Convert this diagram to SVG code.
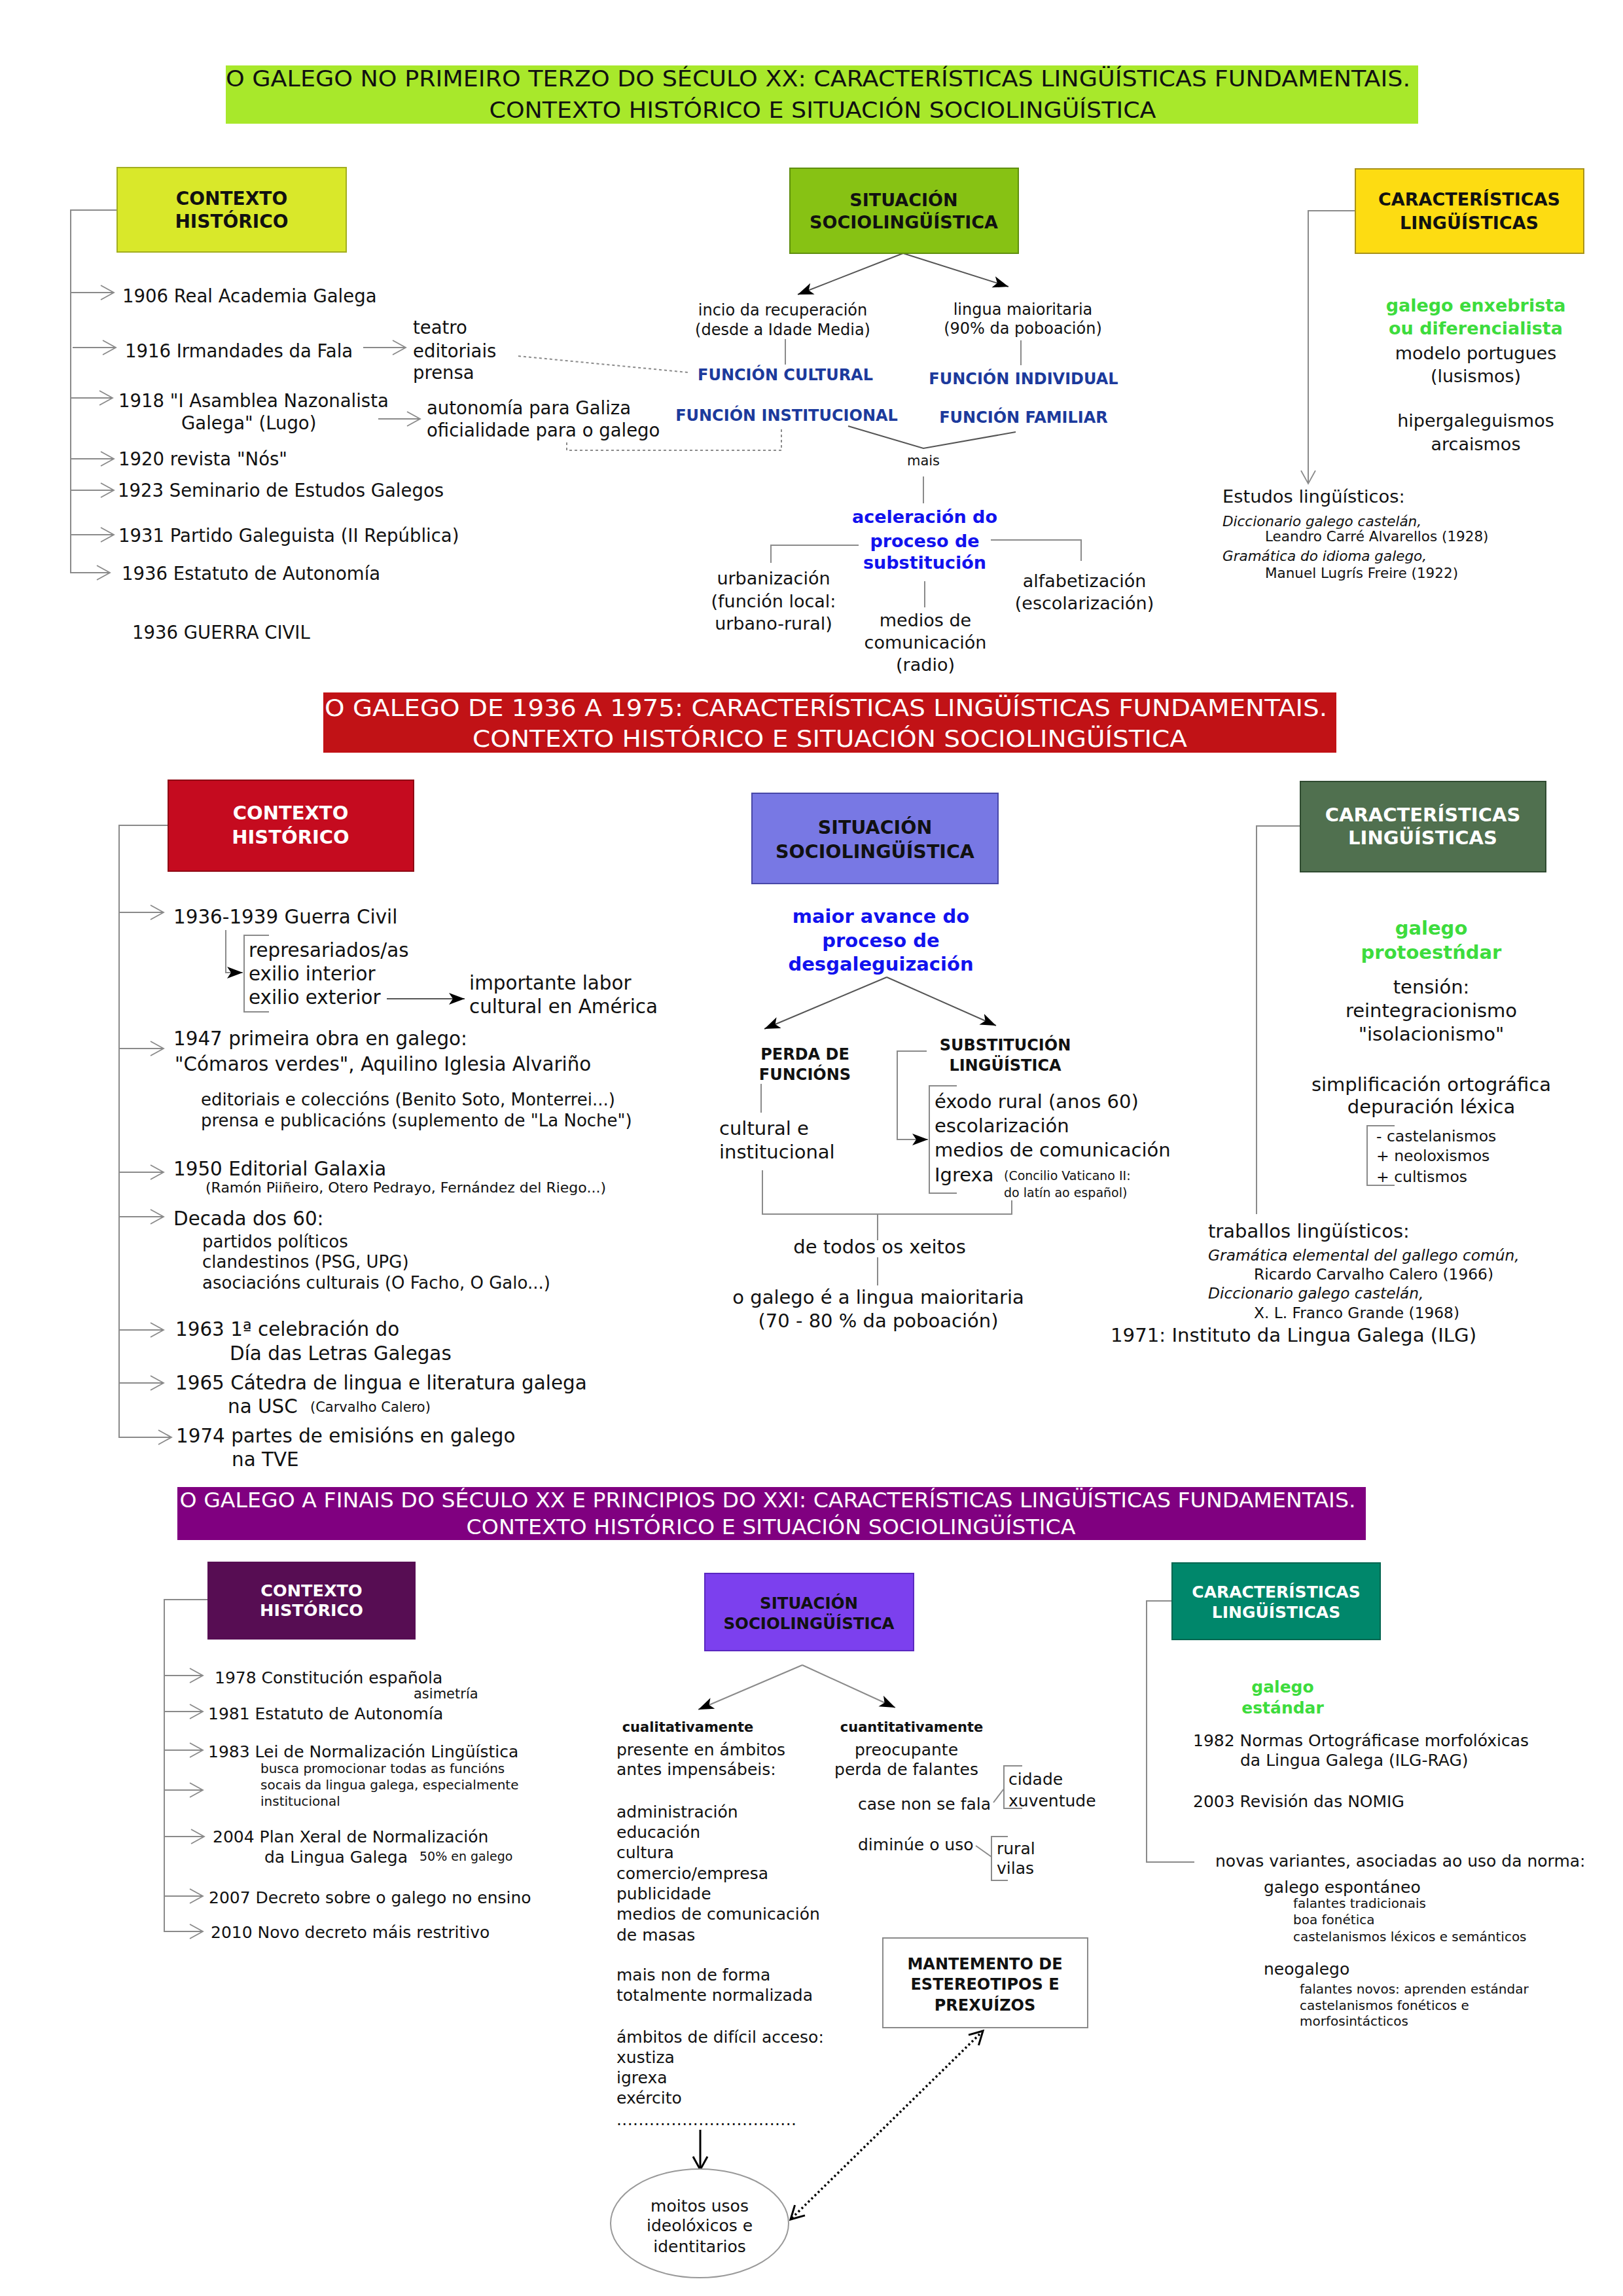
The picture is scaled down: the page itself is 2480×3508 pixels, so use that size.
<svg xmlns="http://www.w3.org/2000/svg" width="2480" height="3508" viewBox="0 0 2480 3508">
<defs>
<style>
text{font-family:"DejaVu Sans","Liberation Sans",sans-serif;fill:#111}
.b{font-weight:bold}
.i{font-style:italic}
.m{text-anchor:middle}
.w{fill:#fff}
.fb{fill:#1c3a9c}
.bl{fill:#1212ee}
.gr{fill:#3ddc3d}
.ln{stroke:#8a8a8a;stroke-width:2;fill:none}
.dk{stroke:#555;stroke-width:2;fill:none}
.dot{stroke:#8a8a8a;stroke-width:2;stroke-dasharray:4 4;fill:none}
.s19{font-size:19px}.s20{font-size:20px}.s21{font-size:21px}.s22{font-size:22px}.s23{font-size:23px}
.s24{font-size:24px}.s25{font-size:25px}.s26{font-size:26px}.s27{font-size:27px}.s28{font-size:28px}.s29{font-size:29px}
</style>
<marker id="chev" markerUnits="userSpaceOnUse" markerWidth="26" markerHeight="26" refX="21" refY="12" orient="auto"><path d="M1,1 L21,12 L1,23" fill="none" stroke="#8a8a8a" stroke-width="1.8"/></marker>
<marker id="tri" markerUnits="userSpaceOnUse" markerWidth="26" markerHeight="20" refX="24" refY="9" orient="auto"><path d="M0,0 L24,9 L0,18 L6,9 z" fill="#000"/></marker>
<marker id="vblk" markerUnits="userSpaceOnUse" markerWidth="30" markerHeight="30" refX="22" refY="13" orient="auto-start-reverse"><path d="M2,2 L22,13 L2,24" fill="none" stroke="#000" stroke-width="3"/></marker>
</defs>
<rect width="2480" height="3508" fill="#fff"/>

<!-- TITLES -->
<g id="title1">
<rect x="345" y="100" width="1822" height="89" fill="#a8e82b"/>
<text class="m" x="1250" y="132" font-size="34" textLength="1810" lengthAdjust="spacingAndGlyphs">O GALEGO NO PRIMEIRO TERZO DO SÉCULO XX: CARACTERÍSTICAS LINGÜÍSTICAS FUNDAMENTAIS.</text>
<text class="m" x="1257" y="180" font-size="34" textLength="1019" lengthAdjust="spacingAndGlyphs">CONTEXTO HISTÓRICO E SITUACIÓN SOCIOLINGÜÍSTICA</text>
</g>
<g id="title2">
<rect x="494" y="1058" width="1548" height="92" fill="#c11216"/>
<text class="m w" x="1262" y="1094" font-size="36" textLength="1532" lengthAdjust="spacingAndGlyphs">O GALEGO DE 1936 A 1975: CARACTERÍSTICAS LINGÜÍSTICAS FUNDAMENTAIS.</text>
<text class="m w" x="1268" y="1141" font-size="36" textLength="1092" lengthAdjust="spacingAndGlyphs">CONTEXTO HISTÓRICO E SITUACIÓN SOCIOLINGÜÍSTICA</text>
</g>
<g id="title3">
<rect x="271" y="2272" width="1816" height="81" fill="#800080"/>
<text class="m w" x="1173" y="2303" font-size="32" textLength="1797" lengthAdjust="spacingAndGlyphs">O GALEGO A FINAIS DO SÉCULO XX E PRINCIPIOS DO XXI: CARACTERÍSTICAS LINGÜÍSTICAS FUNDAMENTAIS.</text>
<text class="m w" x="1178" y="2344" font-size="32" textLength="931" lengthAdjust="spacingAndGlyphs">CONTEXTO HISTÓRICO E SITUACIÓN SOCIOLINGÜÍSTICA</text>
</g>

<!-- CONNECTORS -->
<g id="connectors">
<!-- section 1 left -->
<path class="ln" d="M179,321 H108 V875 H168" marker-end="url(#chev)"/>
<path class="ln" d="M108,447 H174" marker-end="url(#chev)"/>
<path class="ln" d="M111,531 H177" marker-end="url(#chev)"/>
<path class="ln" d="M108,608 H172" marker-end="url(#chev)"/>
<path class="ln" d="M108,701 H174" marker-end="url(#chev)"/>
<path class="ln" d="M108,749 H174" marker-end="url(#chev)"/>
<path class="ln" d="M108,817 H174" marker-end="url(#chev)"/>
<path class="ln" d="M555,531 H620" marker-end="url(#chev)"/>
<path class="ln" d="M578,640 H642" marker-end="url(#chev)"/>
<path class="dot" d="M792,544 L1051,569"/>
<path class="dot" d="M866,676 V688 H1194 V655"/>
<!-- section 1 middle -->
<path class="dk" d="M1380,387 L1219,450" marker-end="url(#tri)"/>
<path class="dk" d="M1380,387 L1541,438" marker-end="url(#tri)"/>
<path class="ln" d="M1200,518 V557"/>
<path class="ln" d="M1560,520 V558"/>
<path class="dk" d="M1296,651 L1411,685 L1552,660"/>
<path class="ln" d="M1411,728 V769"/>
<path class="ln" d="M1312,833 H1178 V860"/>
<path class="ln" d="M1514,825 H1652 V857"/>
<path class="ln" d="M1413,888 V928"/>
<!-- section 1 right -->
<path class="ln" d="M2071,322 H1999 V739" marker-end="url(#chev)"/>
<!-- section 2 left -->
<path class="ln" d="M257,1261 H182 V2196 H262" marker-end="url(#chev)"/>
<path class="ln" d="M182,1394 H250" marker-end="url(#chev)"/>
<path class="ln" d="M182,1602 H250" marker-end="url(#chev)"/>
<path class="ln" d="M182,1791 H250" marker-end="url(#chev)"/>
<path class="ln" d="M182,1859 H250" marker-end="url(#chev)"/>
<path class="ln" d="M182,2032 H250" marker-end="url(#chev)"/>
<path class="ln" d="M182,2113 H250" marker-end="url(#chev)"/>
<path class="ln" d="M345,1421 V1486 H371" marker-end="url(#tri)"/>
<path class="ln" d="M411,1429 H373 V1546 H411"/>
<path class="dk" d="M591,1526 H710" marker-end="url(#tri)"/>
<!-- section 2 middle -->
<path class="dk" d="M1355,1493 L1168,1572" marker-end="url(#tri)"/>
<path class="dk" d="M1355,1493 L1522,1567" marker-end="url(#tri)"/>
<path class="ln" d="M1163,1656 V1700"/>
<path class="ln" d="M1416,1606 H1371 V1741 H1418" marker-end="url(#tri)"/>
<path class="ln" d="M1462,1659 H1420 V1823 H1462"/>
<path class="ln" d="M1165,1788 V1855 H1546 V1834"/>
<path class="ln" d="M1341,1855 V1895"/>
<path class="ln" d="M1341,1921 V1964"/>
<!-- section 2 right -->
<path class="ln" d="M1987,1262 H1920 V1855"/>
<path class="ln" d="M2131,1720 H2089 V1811 H2131"/>
<!-- section 3 left -->
<path class="ln" d="M317,2444 H251 V2951 H310" marker-end="url(#chev)"/>
<path class="ln" d="M251,2560 H310" marker-end="url(#chev)"/>
<path class="ln" d="M251,2615 H310" marker-end="url(#chev)"/>
<path class="ln" d="M251,2674 H310" marker-end="url(#chev)"/>
<path class="ln" d="M251,2735 H310" marker-end="url(#chev)"/>
<path class="ln" d="M251,2806 H312" marker-end="url(#chev)"/>
<path class="ln" d="M251,2897 H310" marker-end="url(#chev)"/>
<!-- section 3 middle -->
<path class="ln" d="M1226,2544 L1067,2612" marker-end="url(#tri)"/>
<path class="ln" d="M1226,2544 L1368,2609" marker-end="url(#tri)"/>
<path d="M1070,3254 V3315" stroke="#000" stroke-width="3" fill="none" marker-end="url(#vblk)"/>
<path d="M1502,3103 L1208,3391" stroke="#000" stroke-width="3.5" stroke-dasharray="3 4" fill="none" marker-start="url(#vblk)" marker-end="url(#vblk)"/>
<path class="ln" d="M1518,2754 L1534,2733"/>
<path class="ln" d="M1562,2698 H1534 V2763 H1562"/>
<path class="ln" d="M1491,2820 L1515,2837"/>
<path class="ln" d="M1540,2806 H1515 V2873 H1540"/>
<!-- section 3 right -->
<path class="ln" d="M1791,2446 H1752 V2845 H1825"/>
</g>

<!-- SECTION 1 -->
<g id="ctx1">
<rect x="179" y="256" width="350" height="129" fill="#d9e82a" stroke="#a2ae1e" stroke-width="2"/>
<text class="m b s28" x="354" y="313">CONTEXTO</text>
<text class="m b s28" x="354" y="348">HISTÓRICO</text>
</g>
<g id="ctx1-items" font-size="27.5">
<text x="187" y="462">1906 Real Academia Galega</text>
<text x="191" y="546">1916 Irmandades da Fala</text>
<text x="181" y="622">1918 &quot;I Asamblea Nazonalista</text>
<text x="277" y="656">Galega&quot; (Lugo)</text>
<text x="181" y="711">1920 revista &quot;Nós&quot;</text>
<text x="180" y="759">1923 Seminario de Estudos Galegos</text>
<text x="181" y="828">1931 Partido Galeguista (II República)</text>
<text x="186" y="886">1936 Estatuto de Autonomía</text>
<text x="202" y="976">1936 GUERRA CIVIL</text>
</g>
<g id="ctx1-fala" font-size="27.5">
<text x="631" y="510">teatro</text>
<text x="631" y="546">editoriais</text>
<text x="631" y="579">prensa</text>
</g>
<g id="ctx1-asamblea" font-size="27.5">
<text x="652" y="633">autonomía para Galiza</text>
<text x="652" y="667">oficialidade para o galego</text>
</g>

<g id="sit1">
<rect x="1207" y="257" width="349" height="130" fill="#87c214" stroke="#5f8f0e" stroke-width="2"/>
<text class="m b s27" x="1381" y="315">SITUACIÓN</text>
<text class="m b s27" x="1381" y="349">SOCIOLINGÜÍSTICA</text>
</g>
<g id="sit1-recup" class="m s24">
<text x="1196" y="482">incio da recuperación</text>
<text x="1196" y="512">(desde a Idade Media)</text>
</g>
<g id="sit1-maior" class="m s24">
<text x="1563" y="481">lingua maioritaria</text>
<text x="1563" y="510">(90% da poboación)</text>
</g>
<g id="sit1-funcs" class="m b s24">
<text class="fb" x="1200" y="581">FUNCIÓN CULTURAL</text>
<text class="fb" x="1564" y="587">FUNCIÓN INDIVIDUAL</text>
<text class="fb" x="1202" y="643">FUNCIÓN INSTITUCIONAL</text>
<text class="fb" x="1564" y="646">FUNCIÓN FAMILIAR</text>
</g>
<g id="sit1-mais"><text class="m s21" x="1411" y="711">mais</text></g>
<g id="sit1-acel" class="m b s27">
<text class="bl" x="1413" y="799">aceleración do</text>
<text class="bl" x="1413" y="836">proceso de</text>
<text class="bl" x="1413" y="869">substitución</text>
</g>
<g id="sit1-urb" class="m s27">
<text x="1182" y="893">urbanización</text>
<text x="1182" y="928">(función local:</text>
<text x="1182" y="962">urbano-rural)</text>
</g>
<g id="sit1-medios" class="m s27">
<text x="1414" y="957">medios de</text>
<text x="1414" y="991">comunicación</text>
<text x="1414" y="1025">(radio)</text>
</g>
<g id="sit1-alfa" class="m s27">
<text x="1657" y="897">alfabetización</text>
<text x="1657" y="931">(escolarización)</text>
</g>

<g id="car1">
<rect x="2071" y="258" width="349" height="129" fill="#fddc12" stroke="#a8921a" stroke-width="2"/>
<text class="m b s27" x="2245" y="314">CARACTERÍSTICAS</text>
<text class="m b s27" x="2245" y="350">LINGÜÍSTICAS</text>
</g>
<g id="car1-text" class="m s27">
<text class="b gr" x="2255" y="476">galego enxebrista</text>
<text class="b gr" x="2255" y="511">ou diferencialista</text>
<text x="2255" y="549">modelo portugues</text>
<text x="2255" y="584">(lusismos)</text>
<text x="2255" y="652">hipergaleguismos</text>
<text x="2255" y="688">arcaismos</text>
</g>
<g id="car1-estudos">
<text font-size="27.3" x="1868" y="768">Estudos lingüísticos:</text>
<text class="i" font-size="21.5" x="1868" y="804">Diccionario galego castelán,</text>
<text font-size="21.5" x="1933" y="827">Leandro Carré Alvarellos (1928)</text>
<text class="i" font-size="21.5" x="1868" y="857">Gramática do idioma galego,</text>
<text font-size="21.5" x="1933" y="883">Manuel Lugrís Freire (1922)</text>
</g>

<!-- SECTION 2 -->
<g id="ctx2">
<rect x="257" y="1192" width="375" height="139" fill="#c50b1f" stroke="#8f0a14" stroke-width="2"/>
<text class="m b s29 w" x="444" y="1252">CONTEXTO</text>
<text class="m b s29 w" x="444" y="1289">HISTÓRICO</text>
</g>
<g id="ctx2-items" font-size="29.4">
<text x="265" y="1411">1936-1939 Guerra Civil</text>
<text x="380" y="1462">represariados/as</text>
<text x="380" y="1498">exilio interior</text>
<text x="380" y="1534">exilio exterior</text>
<text x="717" y="1512">importante labor</text>
<text x="717" y="1548">cultural en América</text>
<text x="265" y="1597">1947 primeira obra en galego:</text>
<text x="267" y="1636">&quot;Cómaros verdes&quot;, Aquilino Iglesia Alvariño</text>
<text class="s26" x="307" y="1689">editoriais e coleccións (Benito Soto, Monterrei...)</text>
<text class="s26" x="307" y="1721">prensa e publicacións (suplemento de &quot;La Noche&quot;)</text>
<text x="265" y="1796">1950 Editorial Galaxia</text>
<text class="s22" x="314" y="1822">(Ramón Piiñeiro, Otero Pedrayo, Fernández del Riego...)</text>
<text x="265" y="1872">Decada dos 60:</text>
<text class="s26" x="309" y="1906">partidos políticos</text>
<text class="s26" x="309" y="1937">clandestinos (PSG, UPG)</text>
<text class="s26" x="309" y="1969">asociacións culturais (O Facho, O Galo...)</text>
<text x="268" y="2041">1963 1ª celebración do</text>
<text x="351" y="2078">Día das Letras Galegas</text>
<text x="268" y="2123">1965 Cátedra de lingua e literatura galega</text>
<text x="348" y="2159">na USC</text>
<text class="s21" x="474" y="2157">(Carvalho Calero)</text>
<text x="269" y="2204">1974 partes de emisións en galego</text>
<text x="354" y="2240">na TVE</text>
</g>

<g id="sit2">
<rect x="1149" y="1212" width="376" height="138" fill="#7878e4" stroke="#4848a8" stroke-width="2"/>
<text class="m b" font-size="28.5" x="1337" y="1274">SITUACIÓN</text>
<text class="m b" font-size="28.5" x="1337" y="1311">SOCIOLINGÜÍSTICA</text>
</g>
<g id="sit2-maior" class="m b s29">
<text class="bl" x="1346" y="1410">maior avance do</text>
<text class="bl" x="1346" y="1447">proceso de</text>
<text class="bl" x="1346" y="1483">desgaleguización</text>
</g>
<g id="sit2-perda" class="m b s24">
<text x="1230" y="1619">PERDA DE</text>
<text x="1230" y="1650">FUNCIÓNS</text>
</g>
<g id="sit2-subst" class="m b s24">
<text x="1536" y="1605">SUBSTITUCIÓN</text>
<text x="1536" y="1636">LINGÜÍSTICA</text>
</g>
<g id="sit2-cult" class="s29">
<text x="1099" y="1734">cultural e</text>
<text x="1099" y="1770">institucional</text>
</g>
<g id="sit2-causes" class="s29">
<text x="1428" y="1693">éxodo rural (anos 60)</text>
<text x="1428" y="1730">escolarización</text>
<text x="1428" y="1767">medios de comunicación</text>
<text x="1428" y="1805">Igrexa</text>
<text class="s19" x="1534" y="1803">(Concilio Vaticano II:</text>
<text class="s19" x="1534" y="1829">do latín ao español)</text>
</g>
<g id="sit2-xeitos"><text class="m s29" x="1344" y="1915">de todos os xeitos</text></g>
<g id="sit2-maioritaria" class="m s29">
<text x="1342" y="1992">o galego é a lingua maioritaria</text>
<text x="1342" y="2028">(70 - 80 % da poboación)</text>
</g>

<g id="car2">
<rect x="1987" y="1194" width="375" height="138" fill="#50704f" stroke="#2f4a30" stroke-width="2"/>
<text class="m b s29 w" x="2174" y="1255">CARACTERÍSTICAS</text>
<text class="m b s29 w" x="2174" y="1290">LINGÜÍSTICAS</text>
</g>
<g id="car2-text" class="m s29">
<text class="b gr" x="2187" y="1428">galego</text>
<text class="b gr" x="2187" y="1465">protoestńdar</text>
<text x="2187" y="1518">tensión:</text>
<text x="2187" y="1554">reintegracionismo</text>
<text x="2187" y="1590">&quot;isolacionismo&quot;</text>
<text x="2187" y="1667">simplificación ortográfica</text>
<text x="2187" y="1701">depuración léxica</text>
</g>
<g id="car2-lex" font-size="23.5">
<text x="2103" y="1744">- castelanismos</text>
<text x="2103" y="1774">+ neoloxismos</text>
<text x="2103" y="1806">+ cultismos</text>
</g>
<g id="car2-traballos">
<text class="s29" x="1846" y="1891">traballos lingüísticos:</text>
<text class="i" font-size="23.3" x="1846" y="1926">Gramática elemental del gallego común,</text>
<text font-size="23.3" x="1916" y="1955">Ricardo Carvalho Calero (1966)</text>
<text class="i" font-size="23.3" x="1846" y="1984">Diccionario galego castelán,</text>
<text font-size="23.3" x="1916" y="2014">X. L. Franco Grande (1968)</text>
<text font-size="29.2" x="1697" y="2050">1971: Instituto da Lingua Galega (ILG)</text>
</g>

<!-- SECTION 3 -->
<g id="ctx3">
<rect x="317" y="2386" width="318" height="119" fill="#570d53"/>
<text class="m b w" font-size="25.5" x="476" y="2439">CONTEXTO</text>
<text class="m b w" font-size="25.5" x="476" y="2469">HISTÓRICO</text>
</g>
<g id="ctx3-items" class="s25">
<text x="328" y="2572">1978 Constitución española</text>
<text class="s21" x="632" y="2595">asimetría</text>
<text x="318" y="2627">1981 Estatuto de Autonomía</text>
<text x="318" y="2685">1983 Lei de Normalización Lingüística</text>
<text class="s20" x="398" y="2709">busca promocionar todas as funcións</text>
<text class="s20" x="398" y="2734">socais da lingua galega, especialmente</text>
<text class="s20" x="398" y="2759">institucional</text>
<text x="325" y="2815">2004 Plan Xeral de Normalización</text>
<text x="404" y="2846">da Lingua Galega</text>
<text class="s19" x="641" y="2843">50% en galego</text>
<text x="319" y="2908">2007 Decreto sobre o galego no ensino</text>
<text x="322" y="2961">2010 Novo decreto máis restritivo</text>
</g>

<g id="sit3">
<rect x="1077" y="2404" width="319" height="118" fill="#7c40ee" stroke="#5a28c0" stroke-width="2"/>
<text class="m b" font-size="24.5" x="1236" y="2458">SITUACIÓN</text>
<text class="m b" font-size="24.5" x="1236" y="2489">SOCIOLINGÜÍSTICA</text>
</g>
<g id="sit3-cual" class="s25">
<text class="m b s21" x="1051" y="2646">cualitativamente</text>
<text x="942" y="2682">presente en ámbitos</text>
<text x="942" y="2712">antes impensábeis:</text>
<text x="942" y="2777">administración</text>
<text x="942" y="2808">educación</text>
<text x="942" y="2839">cultura</text>
<text x="942" y="2871">comercio/empresa</text>
<text x="942" y="2902">publicidade</text>
<text x="942" y="2933">medios de comunicación</text>
<text x="942" y="2965">de masas</text>
<text x="942" y="3026">mais non de forma</text>
<text x="942" y="3057">totalmente normalizada</text>
<text x="942" y="3121">ámbitos de difícil acceso:</text>
<text x="942" y="3152">xustiza</text>
<text x="942" y="3183">igrexa</text>
<text x="942" y="3214">exército</text>
<text x="942" y="3247" textLength="275">.................................</text>
</g>
<g id="sit3-cuant" class="s25">
<text class="m b s21" x="1393" y="2646">cuantitativamente</text>
<text class="m" x="1385" y="2682">preocupante</text>
<text class="m" x="1385" y="2712">perda de falantes</text>
<text x="1311" y="2765">case non se fala</text>
<text x="1541" y="2727">cidade</text>
<text x="1541" y="2760">xuventude</text>
<text x="1311" y="2827">diminúe o uso</text>
<text x="1523" y="2833">rural</text>
<text x="1523" y="2863">vilas</text>
</g>
<g id="mantemento">
<rect x="1349" y="2961" width="313" height="137" fill="#fff" stroke="#8a8a8a" stroke-width="2"/>
<text class="m b s24" x="1505" y="3009">MANTEMENTO DE</text>
<text class="m b s24" x="1505" y="3040">ESTEREOTIPOS E</text>
<text class="m b s24" x="1505" y="3072">PREXUÍZOS</text>
</g>
<g id="usos">
<ellipse cx="1069" cy="3397" rx="136" ry="83" fill="#fff" stroke="#999" stroke-width="2"/>
<text class="m s25" x="1069" y="3379">moitos usos</text>
<text class="m s25" x="1069" y="3409">ideolóxicos e</text>
<text class="m s25" x="1069" y="3441">identitarios</text>
</g>

<g id="car3">
<rect x="1791" y="2388" width="318" height="117" fill="#00876b" stroke="#006650" stroke-width="2"/>
<text class="m b s25 w" x="1950" y="2441">CARACTERÍSTICAS</text>
<text class="m b s25 w" x="1950" y="2472">LINGÜÍSTICAS</text>
</g>
<g id="car3-text" class="s25">
<text class="m b gr" x="1960" y="2586">galego</text>
<text class="m b gr" x="1960" y="2618">estándar</text>
<text x="1823" y="2668">1982 Normas Ortográficase morfolóxicas</text>
<text x="1895" y="2698">da Lingua Galega (ILG-RAG)</text>
<text x="1823" y="2761">2003 Revisión das NOMIG</text>
<text x="1857" y="2852">novas variantes, asociadas ao uso da norma:</text>
<text x="1931" y="2892">galego espontáneo</text>
<text class="s20" x="1976" y="2915">falantes tradicionais</text>
<text class="s20" x="1976" y="2940">boa fonética</text>
<text class="s20" x="1976" y="2966">castelanismos léxicos e semánticos</text>
<text x="1931" y="3017">neogalego</text>
<text class="s20" x="1986" y="3046">falantes novos: aprenden estándar</text>
<text class="s20" x="1986" y="3071">castelanismos fonéticos e</text>
<text class="s20" x="1986" y="3095">morfosintácticos</text>
</g>
</svg>
